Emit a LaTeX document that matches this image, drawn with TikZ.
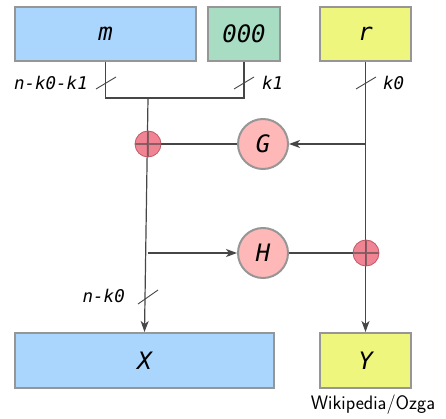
\documentclass[tikz,border=0pt]{standalone}
\usepackage{fontspec}
\setmonofont{DejaVu Sans Mono}
\usetikzlibrary{arrows.meta}
\definecolor{boxblue}{RGB}{170,213,252}
\definecolor{boxgreen}{RGB}{168,221,196}
\definecolor{boxyellow}{RGB}{238,246,126}
\definecolor{fpink}{RGB}{255,184,184}
\definecolor{addred}{RGB}{238,110,128}
\definecolor{bordergray}{RGB}{150,150,150}
\definecolor{linegray}{RGB}{70,70,70}
\tikzset{
  blockbox/.style={draw=bordergray, line width=2pt, inner sep=0pt,
    font=\ttfamily\itshape\fontsize{24}{24}\selectfont},
  funcnode/.style={circle, draw=bordergray, line width=2pt, fill=fpink,
    minimum size=50pt, inner sep=0pt, font=\ttfamily\itshape\fontsize{24}{24}\selectfont},
  adder/.style={circle, draw=addred!80!black, line width=0.8pt, fill=addred,
    fill opacity=0.85, minimum size=26pt, inner sep=0pt,
    path picture={\draw[linegray, line width=1.1pt, opacity=0.6]
      (path picture bounding box.west) -- (path picture bounding box.east)
      (path picture bounding box.north) -- (path picture bounding box.south);}},
  conn/.style={linegray, line width=1.2pt},
  arr/.style={conn, -{Stealth[length=11pt,width=8pt,inset=3pt]}},
  slash/.style={linegray, line width=0.9pt},
  lbl/.style={inner sep=0pt, font=\ttfamily\itshape\fontsize{17.5}{17.5}\selectfont},
}
\begin{document}
\begin{tikzpicture}[x=1pt,y=-1pt]
\useasboundingbox (0,0) rectangle (446,419);
% boxes
\node[blockbox, fill=boxblue, minimum width=181pt, minimum height=54pt] (m) at (105.5,34) {m};
\node[blockbox, fill=boxgreen, minimum width=72pt, minimum height=54pt] (z) at (244,34) {000};
\node[blockbox, fill=boxyellow, minimum width=91pt, minimum height=54pt] (r) at (365.5,34) {r};
\node[blockbox, fill=boxblue, minimum width=259pt, minimum height=55pt] (X) at (144.5,360.5) {X};
\node[blockbox, fill=boxyellow, minimum width=91pt, minimum height=55pt] (Y) at (365.5,360.5) {Y};
% junction coordinates
\coordinate (j) at (148,98);
\coordinate (gtap) at (366,144);
\coordinate (htap) at (148,253);
% function nodes
\node[funcnode] (G) at (263,144) {G};
\node[funcnode] (H) at (263,253) {H};
% connectors
\draw[conn] (m.south) |- (j);
\draw[conn] (z.south) |- (j);
\draw[arr] (j) -- (X.north);
\draw[arr] (r.south) -- (Y.north);
\draw[arr] (gtap) -- (G.east);
\draw[arr] (htap) -- (H.west);
% adders
\node[adder] (a1) at (148,144) {};
\node[adder] (a2) at (366,253) {};
\draw[conn] (G.west) -- (a1.east);
\draw[conn] (H.east) -- (a2.west);
% slashes
\coordinate (s1) at (106,83);
\coordinate (s2) at (244,83);
\coordinate (s3) at (366,83);
\coordinate (s4) at (148,297);
\draw[slash] ([shift={(-10,6)}]s1) -- ([shift={(10,-6)}]s1);
\draw[slash] ([shift={(-10,6)}]s2) -- ([shift={(10,-6)}]s2);
\draw[slash] ([shift={(-10,6)}]s3) -- ([shift={(10,-6)}]s3);
\draw[slash] ([shift={(-10,7)}]s4) -- ([shift={(10,-7)}]s4);
% labels
\node[lbl, anchor=east] (l1) at (88,83) {n-k0-k1};
\node[lbl, anchor=west] (l2) at (262,83) {k1};
\node[lbl, anchor=west] (l3) at (383,83) {k0};
\node[lbl, anchor=east] (l4) at (125,296) {n-k0};
\node[inner sep=0pt, font=\sffamily\fontsize{19.5}{19.5}\selectfont] (cred) at (373,405) {Wikipedia/Ozga};
\end{tikzpicture}
\end{document}
